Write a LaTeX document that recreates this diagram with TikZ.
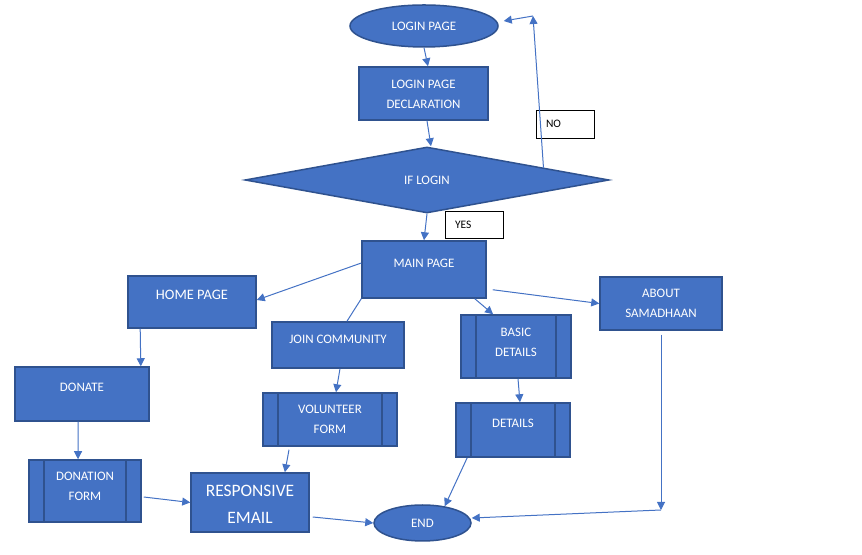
\documentclass[tikz,border=0pt]{standalone}
\usepackage{fontspec}
\setmainfont{Carlito}
\usetikzlibrary{positioning,shapes.geometric,arrows.meta}
\definecolor{boxblue}{HTML}{4472C4}
\definecolor{edgeblue}{HTML}{2F528F}

\begin{document}
\begin{tikzpicture}[x=1bp, y=1bp,
    pagenode/.style={rectangle, draw=edgeblue, fill=boxblue, line width=1.5bp, text=white, align=center, inner sep=0, font=\fontsize{13}{20}\selectfont},
    termnode/.style={ellipse, draw=edgeblue, fill=boxblue, line width=1.5bp, text=white, inner sep=0, font=\fontsize{13}{20}\selectfont},
    decisionnode/.style={diamond, aspect=5.5, draw=edgeblue, fill=boxblue, line width=1.5bp, text=white, inner sep=0, font=\fontsize{13}{20}\selectfont},
    formnode/.style={pagenode, path picture={
        \draw[edgeblue, line width=1.5bp] ([xshift=15bp]path picture bounding box.north west) -- ([xshift=15bp]path picture bounding box.south west);
        \draw[edgeblue, line width=1.5bp] ([xshift=-15bp]path picture bounding box.north east) -- ([xshift=-15bp]path picture bounding box.south east);}},
    tagnode/.style={rectangle, draw=black, fill=white, thin, text width=38bp, inner xsep=10bp, minimum height=28bp, align=left, font=\fontsize{11.5}{14}\selectfont},
    toptext/.style 2 args={label={[text=white, align=center, inner sep=0, font=\fontsize{13}{20}\selectfont, anchor=center, yshift=-#1]north:#2}},
    flow/.style={-{Triangle[length=8bp,width=8bp]}, draw=boxblue, line width=1bp},
    link/.style={-, draw=boxblue, line width=1bp},
    ]
      \useasboundingbox (0,0) rectangle (862,555);

      %Nodes
      \node[termnode, minimum width=148bp, minimum height=42bp] (login) at (424,529) {LOGIN PAGE};
      \node[pagenode, minimum width=129bp, minimum height=53bp, toptext={28}{LOGIN PAGE\\DECLARATION}] (decl) at (423.5,461.5) {};
      \node[decisionnode, minimum width=364bp, minimum height=66bp] (cond) at (427,375) {IF LOGIN};
      \node[tagnode] (no) at (565,431) {NO};
      \node[tagnode, minimum height=27bp] (yes) at (474,330.5) {YES};

      \node[pagenode, minimum width=124bp, minimum height=57bp, toptext={23}{MAIN PAGE}] (main) at (424,285.5) {};
      \node[pagenode, minimum width=128bp, minimum height=52bp, toptext={20}{\fontsize{14.5}{18}\selectfont HOME PAGE}] (home) at (192,253) {};
      \node[pagenode, minimum width=132bp, minimum height=46bp, toptext={18}{JOIN COMMUNITY}] (join) at (338,210) {};
      \node[formnode, minimum width=110bp, minimum height=63bp, toptext={28}{BASIC\\DETAILS}] (basic) at (516,208.5) {};
      \node[pagenode, minimum width=122bp, minimum height=53bp, toptext={27.5}{ABOUT\\SAMADHAAN}] (about) at (661,251.5) {};

      \node[pagenode, minimum width=134bp, minimum height=54bp, toptext={21}{DONATE}] (donate) at (82,161) {};
      \node[formnode, minimum width=134bp, minimum height=53bp, toptext={27.5}{VOLUNTEER\\FORM}] (vol) at (330,135.5) {};
      \node[formnode, minimum width=114bp, minimum height=54bp, toptext={21}{DETAILS}] (details) at (513,125) {};
      \node[formnode, minimum width=112bp, minimum height=62bp, toptext={27}{DONATION\\FORM}] (donf) at (85,64) {};
      \node[pagenode, minimum width=118bp, minimum height=59bp,
            label={[text=white, align=center, inner sep=0, font=\fontsize{17.5}{27}\selectfont, anchor=center, yshift=-32.5]north:RESPONSIVE\\EMAIL}] (resp) at (250,52.5) {};
      \node[termnode, minimum width=97bp, minimum height=36bp] (endn) at (422.5,32) {END};

      \coordinate (noturn) at (533,539);
      \coordinate (aboutturn) at (661,45);

      %Lines
      \draw[flow] (login.south) to ([xshift=4.5]decl.north);
      \draw[flow] ([xshift=3.5]decl.south) to ([xshift=4]cond.north);
      \draw[flow] (cond.south) to (main.north);
      \draw[flow] (cond.6.7) to (noturn);
      \draw[flow] (noturn) to ([shift={(5,5)}]login.east);

      \draw[flow] ([yshift=6.5]main.west) to ([yshift=2]home.east);
      \draw[link] (main.south west) to ([xshift=9]join.north);
      \draw[flow] ([xshift=-12]main.south east) to ([xshift=-23]basic.north);
      \draw[flow] ([shift={(6,9)}]main.south east) to (about.west);

      \draw[flow] ([xshift=13]home.south west) to ([xshift=-9]donate.north east);
      \draw[flow] ([xshift=-4]donate.south) to ([xshift=-7]donf.north);
      \draw[flow] ([xshift=2]join.south) to ([xshift=6]vol.north);
      \draw[flow] ([shift={(-41,-3)}]vol.south) to ([xshift=35]resp.north);
      \draw[flow] ([xshift=2]basic.south) to ([xshift=7]details.north);

      \draw[flow] ([shift={(2,-6)}]donf.east) to (resp.west);
      \draw[flow] ([shift={(3,-14.5)}]resp.east) to (endn.west);
      \draw[flow] ([xshift=12]details.south west) to (endn.37);
      \draw[flow] ([yshift=-4]about.south) to (aboutturn);
      \draw[flow] (aboutturn) to ([yshift=5]endn.east);
    \end{tikzpicture}
\end{document}
